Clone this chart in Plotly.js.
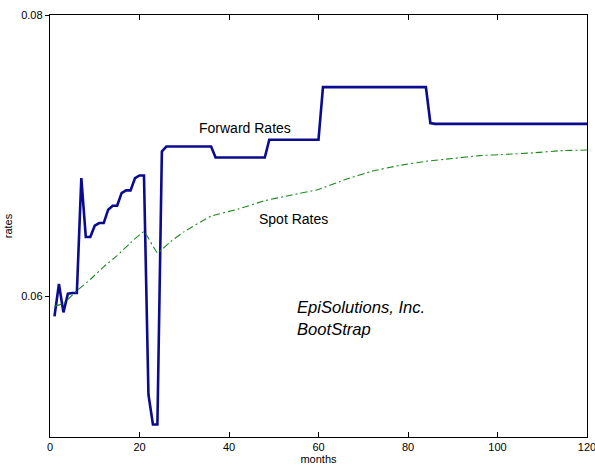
<!DOCTYPE html>
<html>
<head>
<meta charset="utf-8">
<script src="https://cdn.plot.ly/plotly-3.0.1.min.js"></script>
<style>html,body{margin:0;padding:0;background:#fff;overflow:hidden;}#chart{width:595px;height:468px;}</style>
</head>
<body>
<div id="chart"></div>
<script>
const fwdMonths = [1,2,3,4,5,6,7,8,9,10,11,12,13,14,15,16,17,18,19,20,21,22,23,24,25,26,36,37,48,49,60,61,84,85,86,120];
const fwdRates  = [0.05858,0.06088,0.05886,0.06019,0.06024,0.06024,0.0684,0.06422,0.06422,0.06502,0.06521,0.06521,0.06616,0.06644,0.06644,0.06734,0.06753,0.06753,0.0684,0.06859,0.06859,0.05302,0.05089,0.05089,0.0703,0.07065,0.07065,0.06987,0.06987,0.07113,0.07113,0.07487,0.07487,0.07232,0.07226,0.07226];
const spotMonths = [1,3,6,9,12,15,18,21,24,27,30,36,42,48,54,60,66,72,78,84,90,96,102,108,114,120];
const spotRates  = [0.0593,0.0595,0.0604,0.0612,0.0621,0.0629,0.0638,0.0646,0.0631,0.0639,0.0646,0.0657,0.0662,0.0668,0.0672,0.0676,0.0683,0.0689,0.0693,0.0696,0.0698,0.0700,0.0701,0.0702,0.07035,0.0704];
const xTicks = [0,20,40,60,80,100,120];
const yTicks = [0.06,0.08];
const yTickText = ['0.06','0.08'];

const FONT = 'Liberation Sans, Arial, Helvetica, sans-serif';
const traces = [
  {x: fwdMonths, y: fwdRates, mode:'lines', line:{color:'#0b0b8f', width:2.6}, hoverinfo:'skip'},
  {x: spotMonths, y: spotRates, mode:'lines', line:{color:'#1a8a1a', width:1.1, dash:'7px,3px,2px,3px', shape:'spline', smoothing:0.3}, hoverinfo:'skip'}
];
const layout = {
  width:595, height:468,
  margin:{l:50, r:8, t:15, b:31},
  paper_bgcolor:'#fff', plot_bgcolor:'#fff',
  showlegend:false,
  font:{family:FONT, size:11, color:'#000'},
  xaxis:{range:[0,120], tickvals:xTicks, ticks:'inside', ticklen:5, tickcolor:'#000',
    ticklabeloverflow:'allow',
    showline:true, linecolor:'#000', linewidth:1.2, mirror:'ticks', showgrid:false, zeroline:false,
    title:{text:'months', font:{family:FONT, size:11}, standoff:2}, tickfont:{family:FONT, size:11}},
  yaxis:{range:[0.05,0.08], tickvals:yTicks, ticktext:yTickText, ticks:'outside', ticklen:4, tickcolor:'#000',
    showline:true, linecolor:'#000', linewidth:1.2, mirror:true, showgrid:false, zeroline:false,
    title:{text:'rates', font:{family:FONT, size:11}, standoff:6}, tickfont:{family:FONT, size:11}},
  annotations:[
    {x:43.5, y:0.07195, xref:'x', yref:'y', text:'Forward Rates', showarrow:false, font:{family:FONT, size:14}},
    {x:54.5, y:0.06548, xref:'x', yref:'y', text:'Spot Rates', showarrow:false, font:{family:FONT, size:14}},
    {x:54.8, y:0.05845, xref:'x', yref:'y', xanchor:'left', yanchor:'middle', align:'left',
     text:'<i>EpiSolutions, Inc.<br>BootStrap</i>', showarrow:false, font:{family:FONT, size:16.6}}
  ]
};
Plotly.newPlot('chart', traces, layout, {staticPlot:true, displayModeBar:false});
</script>
</body>
</html>
